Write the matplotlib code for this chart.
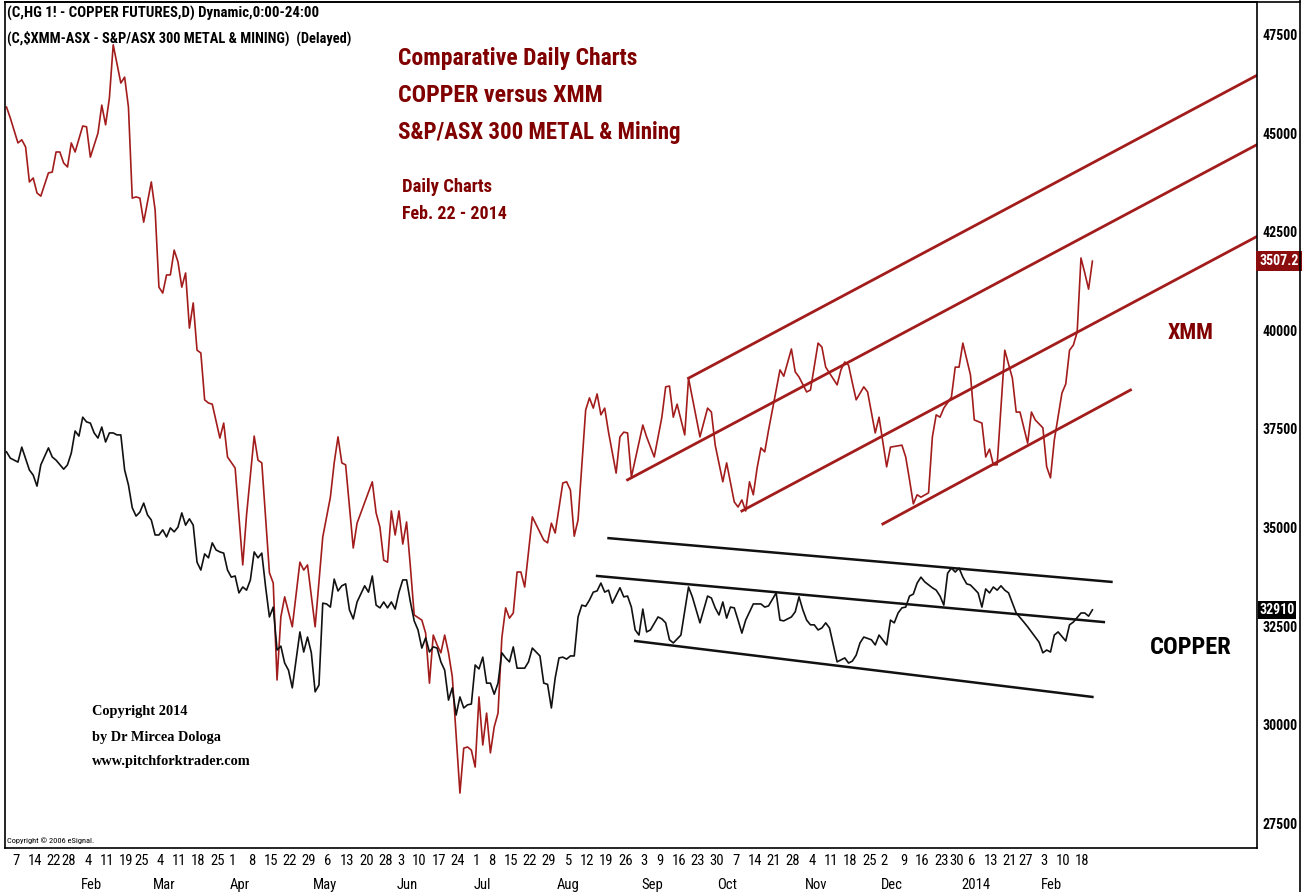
import matplotlib
matplotlib.use('Agg')
import matplotlib.pyplot as plt
import matplotlib.transforms as mtransforms
from matplotlib.lines import Line2D
import pandas as pd

# trading calendar (CME copper, Jan 3 2013 - Feb 21 2014)
HOLIDAYS = ['2013-01-21', '2013-02-18', '2013-03-29', '2013-05-27', '2013-07-04',
            '2013-09-02', '2013-11-28', '2013-12-25', '2014-01-01', '2014-01-20',
            '2014-02-17']
MONTH_LABELS = ['Feb', 'Mar', 'Apr', 'May', 'Jun', 'Jul', 'Aug', 'Sep', 'Oct',
                'Nov', 'Dec', '2014', 'Feb']

# XMM (red) - bar number / value on the chart scale
XMM_BAR = [0, 1, 3, 4, 5, 6, 7, 8, 9, 11,
           12, 13, 14, 15, 16, 17, 18, 20, 21, 22,
           24, 25, 26, 27, 28, 30, 31, 32, 33, 34,
           35, 36, 38, 39, 40, 41, 42, 43, 44, 45,
           46, 47, 48, 49, 50, 51, 52, 53, 54, 56,
           57, 58, 60, 62, 63, 65, 66, 67, 69, 70,
           71, 72, 73, 75, 77, 78, 79, 81, 83, 85,
           86, 87, 88, 89, 91, 92, 96, 97, 98, 99,
           100, 101, 102, 103, 104, 105, 106, 107, 109, 110,
           111, 112, 113, 114, 115, 116, 117, 119, 120, 121,
           122, 123, 124, 125, 126, 127, 128, 129, 130, 131,
           132, 133, 134, 135, 136, 138, 141, 142, 143, 144,
           146, 147, 148, 149, 150, 152, 153, 154, 155, 156,
           157, 158, 160, 161, 162, 163, 164, 167, 168, 170,
           172, 173, 174, 175, 176, 178, 179, 182, 184, 185,
           186, 188, 189, 191, 192, 193, 194, 195, 196, 197,
           198, 199, 200, 203, 204, 206, 207, 208, 210, 211,
           213, 214, 215, 216, 218, 219, 220, 221, 222, 223,
           225, 226, 228, 229, 231, 232, 235, 236, 237, 238,
           239, 240, 242, 243, 244, 245, 246, 248, 249, 250,
           251, 253, 254, 256, 257, 258, 259, 260, 262, 264,
           265, 266, 268, 269, 270, 272, 273, 274, 275, 277,
           278, 279, 280, 281, 282, 283, 284, 285]
XMM_VAL = [45670, 45390, 44760, 44840, 44660, 43770, 43870, 43490, 43410, 44000,
           44020, 44530, 44530, 44250, 44150, 44760, 44530, 45190, 45170, 44400,
           45010, 45720, 45220, 45900, 47250, 46280, 46430, 45670, 43360, 43390,
           43360, 42750, 43770, 43060, 41100, 40950, 41410, 41410, 42040, 41740,
           41100, 41460, 40060, 40700, 39500, 39430, 38240, 38160, 38130, 37270,
           37650, 36790, 36510, 34050, 35320, 37320, 36710, 36640, 33850, 33590,
           31130, 32730, 33240, 32480, 34120, 33920, 34050, 32480, 34760, 35770,
           36640, 37300, 36640, 36590, 34480, 35110, 36160, 35370, 35010, 34170,
           34120, 35420, 34810, 35420, 34580, 35140, 34000, 32780, 32650, 32320,
           31050, 32270, 32020, 31820, 32270, 31820, 31210, 28260, 29400, 29430,
           29350, 28920, 30700, 29480, 30290, 29280, 29940, 30290, 32200, 32960,
           32700, 32830, 33870, 33870, 33490, 35270, 34680, 34610, 35110, 34860,
           36130, 36160, 35950, 34780, 35190, 37980, 38290, 38030, 38390, 37860,
           38030, 37420, 36380, 37300, 37420, 37400, 36280, 37600, 37300, 36790,
           37800, 38570, 38590, 37800, 38130, 37350, 38790, 37300, 38030, 37930,
           37090, 36160, 36640, 35650, 35520, 35700, 35420, 36160, 35830, 36510,
           37020, 36920, 37470, 39000, 38840, 39530, 38950, 38820, 38440, 38490,
           39680, 39580, 39070, 38920, 38620, 39000, 39200, 39120, 38670, 38240,
           38570, 38440, 37400, 37800, 36540, 37040, 37090, 36790, 36210, 35600,
           35830, 35770, 35880, 37300, 37860, 37800, 38030, 38310, 39070, 39070,
           39680, 38870, 37730, 37650, 36790, 36990, 36590, 36590, 39500, 38790,
           37930, 37930, 37140, 37930, 37730, 37530, 36540, 36260, 37220, 38410,
           38640, 39500, 39630, 39960, 41840, 41460, 41050, 41760]

# COPPER (black)
CU_BAR = [0, 1, 3, 4, 6, 7, 8, 9, 11, 12,
          13, 15, 16, 17, 18, 19, 20, 21, 22, 23,
          24, 25, 26, 27, 28, 29, 30, 31, 32, 33,
          34, 35, 36, 37, 38, 39, 40, 41, 42, 43,
          44, 45, 46, 47, 48, 49, 50, 51, 52, 53,
          54, 55, 56, 57, 58, 59, 60, 61, 62, 63,
          64, 65, 66, 67, 68, 69, 70, 71, 72, 73,
          74, 75, 77, 78, 79, 80, 81, 82, 83, 84,
          85, 86, 87, 88, 89, 90, 91, 92, 94, 95,
          96, 97, 98, 99, 100, 101, 102, 103, 104, 105,
          106, 107, 108, 109, 110, 111, 112, 113, 114, 115,
          116, 117, 118, 119, 120, 121, 122, 123, 124, 125,
          126, 127, 128, 129, 130, 131, 132, 133, 134, 136,
          137, 138, 139, 140, 141, 142, 143, 144, 145, 146,
          147, 148, 149, 150, 151, 152, 153, 154, 155, 156,
          157, 158, 159, 161, 162, 163, 164, 165, 166, 167,
          168, 169, 171, 172, 173, 174, 175, 177, 179, 180,
          182, 184, 185, 186, 187, 188, 189, 190, 191, 192,
          193, 194, 196, 198, 199, 200, 202, 203, 204, 206,
          207, 208, 209, 210, 211, 212, 213, 214, 215, 216,
          218, 219, 220, 221, 222, 223, 224, 225, 227, 228,
          229, 231, 232, 233, 234, 235, 236, 237, 238, 239,
          240, 241, 243, 244, 245, 246, 247, 248, 249, 250,
          251, 252, 253, 255, 256, 257, 258, 259, 260, 261,
          262, 263, 265, 267, 268, 269, 271, 272, 273, 274,
          275, 276, 278, 279, 280, 282, 283, 284, 285]
CU_VAL = [36920, 36760, 36660, 37040, 36460, 36330, 36050, 36590, 37020, 36790,
          36710, 36480, 36590, 36890, 37450, 37320, 37800, 37680, 37650, 37400,
          37270, 37550, 37170, 37400, 37400, 37350, 37350, 36460, 36080, 35500,
          35290, 35390, 35620, 35320, 35190, 34810, 34810, 34940, 34760, 34990,
          34890, 35010, 35370, 35060, 35220, 35060, 34120, 33920, 34330, 34230,
          34610, 34430, 34380, 34350, 33920, 33740, 33770, 33340, 33490, 33410,
          33670, 34380, 34230, 34350, 33490, 32730, 32980, 31890, 31990, 31560,
          31380, 30930, 32350, 31840, 32220, 31820, 30830, 31000, 33080, 33060,
          32980, 33690, 33390, 33520, 33570, 32910, 32680, 33110, 33520, 33360,
          33770, 33030, 32960, 33110, 32960, 33110, 32930, 33360, 33670, 33670,
          33110, 32630, 32400, 31940, 32200, 31840, 31970, 31940, 31590, 31380,
          30620, 30930, 30240, 30700, 30420, 30500, 30520, 31510, 31410, 31710,
          31050, 31050, 30770, 31050, 31820, 31690, 31590, 31970, 31430, 31430,
          31590, 31940, 31840, 31740, 31050, 31020, 30420, 31180, 31690, 31710,
          31660, 31740, 31740, 32730, 33030, 33000, 33160, 33360, 33390, 33590,
          33360, 33410, 33080, 33470, 33240, 33260, 32980, 32400, 32270, 32930,
          32350, 32400, 32730, 32680, 32580, 32150, 32070, 32270, 33490, 33240,
          32580, 33260, 33210, 32960, 32780, 33110, 32700, 32980, 32960, 32650,
          32320, 32650, 33060, 33060, 32980, 33010, 33340, 32650, 32630, 32730,
          32860, 33240, 32910, 32650, 32530, 32530, 32400, 32450, 32580, 32450,
          31590, 31640, 31690, 31560, 31610, 31760, 32070, 32220, 32150, 32020,
          32270, 32020, 32650, 32580, 32830, 32960, 32980, 33260, 33310, 33590,
          33740, 33620, 33470, 33410, 33260, 33030, 33840, 33970, 33870, 33970,
          33740, 33570, 33540, 33340, 32980, 33440, 33340, 33490, 33410, 33520,
          33410, 33340, 32830, 32600, 32480, 32350, 32090, 31820, 31890, 31840,
          32270, 32350, 32120, 32530, 32600, 32830, 32830, 32750, 32910]

# trend lines drawn on the chart: (bar0, value0, bar1, value1)
XMM_LINES = [(179, 38790, 330, 46570),
             (163, 36210, 330, 44810),
             (193, 35420, 330, 42480),
             (230, 35090, 295, 38490)]
CU_LINES = [(158, 34730, 290, 33620),
            (155, 33770, 288, 32600),
            (165, 32120, 285, 30700)]

XMM_LAST = '3507.2'
CU_LAST = '32910'
YTICKS = [27500, 30000, 32500, 35000, 37500, 40000, 42500, 45000, 47500]

RED = '#a31c1c'
DARKRED = '#800000'
NARROW = ['Liberation Sans Narrow', 'Roboto Condensed', 'Liberation Sans']

days = pd.bdate_range('2013-01-03', '2014-02-21')
days = days[~days.isin(pd.to_datetime(HOLIDAYS))]
week_pos = [i for i in range(1, len(days)) if days[i].weekday() < days[i - 1].weekday()]
month_pos = [i for i in range(1, len(days)) if days[i].month != days[i - 1].month]

W, H = 1306, 892
fig = plt.figure(figsize=(W / 100, H / 100), dpi=100)
fig.patch.set_facecolor('white')
ax = fig.add_axes([5 / W, 44 / H, 1252 / W, 846 / H])
renderer = fig.canvas.get_renderer()


def fit(t, width_px):
    # scale the font so the text covers the width it has in the reference
    w = t.get_window_extent(renderer=renderer).width
    t.set_fontsize(t.get_fontsize() * width_px / w)
    return t


ax.plot(XMM_BAR, XMM_VAL, color=RED, lw=1.2)
ax.plot(CU_BAR, CU_VAL, color='#111111', lw=1.2)
for b0, v0, b1, v1 in XMM_LINES:
    ax.plot([b0, b1], [v0, v1], color=RED, lw=2.0)
for b0, v0, b1, v1 in CU_LINES:
    ax.plot([b0, b1], [v0, v1], color='#111111', lw=1.8)

ax.set_xlim(-0.4, 328.2)
ax.set_ylim(26866, 48337)
ax.set_xticks([])
ax.yaxis.tick_right()
ax.set_yticks(YTICKS)
ax.set_yticklabels([str(v) for v in YTICKS], family=NARROW, fontweight='bold', fontsize=10)
ax.tick_params(axis='y', length=0, pad=4)
for s in ax.spines.values():
    s.set_linewidth(1.2)

# x labels: week starts and months
xt = ax.get_xaxis_transform()
for i in week_pos:
    ax.text(i + 0.4, -13 / 846, str(days[i].day), transform=xt, ha='center', va='center',
            family=NARROW, fontsize=10.5, clip_on=False)
for i, lab in zip(month_pos, MONTH_LABELS):
    ax.text(i - 0.5, -37 / 846, lab, transform=xt, ha='left', va='center',
            family=NARROW, fontsize=10.5, clip_on=False)

# last value tags on the right scale
yt = mtransforms.blended_transform_factory(ax.transAxes, ax.transData)
ax.text(1.002, XMM_VAL[-1], XMM_LAST, transform=yt, ha='left', va='center', color='white',
        family=NARROW, fontweight='bold', fontsize=10, clip_on=False, zorder=5,
        bbox=dict(boxstyle='square,pad=0.22', fc='#8b0d0d', ec='none'))
ax.text(1.002, CU_VAL[-1], CU_LAST, transform=yt, ha='left', va='center', color='white',
        family=NARROW, fontweight='bold', fontsize=10, clip_on=False, zorder=5,
        bbox=dict(boxstyle='square,pad=0.12', fc='black', ec='none'))


def ftext(x, y, s, width, **kw):
    return fit(fig.text(x / W, 1 - y / H, s, va='center', **kw), width)


ftext(7, 13, '(C,HG 1! - COPPER FUTURES,D) Dynamic,0:00-24:00', 311, family=NARROW,
      fontweight='bold', fontsize=12)
ftext(7, 38, '(C,$XMM-ASX - S&P/ASX 300 METAL & MINING)  (Delayed)', 343, family=NARROW,
      fontweight='bold', fontsize=12)
for y, s, w in [(59, 'Comparative Daily Charts', 240), (96, 'COPPER versus XMM', 204),
                (132, 'S&P/ASX 300 METAL & Mining', 283)]:
    ftext(398, y, s, w, family=NARROW, fontweight='bold', fontsize=19, color=DARKRED)
ftext(402, 187, 'Daily Charts', 91, family=NARROW, fontweight='bold', fontsize=14,
      color=DARKRED)
ftext(402, 214, 'Feb. 22 - 2014', 105, family=NARROW, fontweight='bold', fontsize=14,
      color=DARKRED)
ftext(1168, 333, 'XMM', 46, family=NARROW, fontweight='bold', fontsize=19, color=DARKRED)
ftext(1150, 648, 'COPPER', 82, family=NARROW, fontweight='bold', fontsize=19, color='black')
for y, s, w in [(712, 'Copyright 2014', 95), (737, 'by Dr Mircea Dologa', 128),
                (762, 'www.pitchforktrader.com', 158)]:
    ftext(92, y, s, w, family='Liberation Serif', fontweight='bold', fontsize=12)
ftext(7, 841, 'Copyright \u00a9 2006 eSignal.', 86, family=NARROW, fontsize=6.5)

# outer frame
fig.add_artist(Line2D([1300 / W, 1300 / W], [0, 1], color='black', lw=1.2))
fig.add_artist(Line2D([5 / W, 1300 / W], [1 - 1.5 / H, 1 - 1.5 / H], color='black', lw=1.2))

fig.savefig('out.png', dpi=100, facecolor='white')
